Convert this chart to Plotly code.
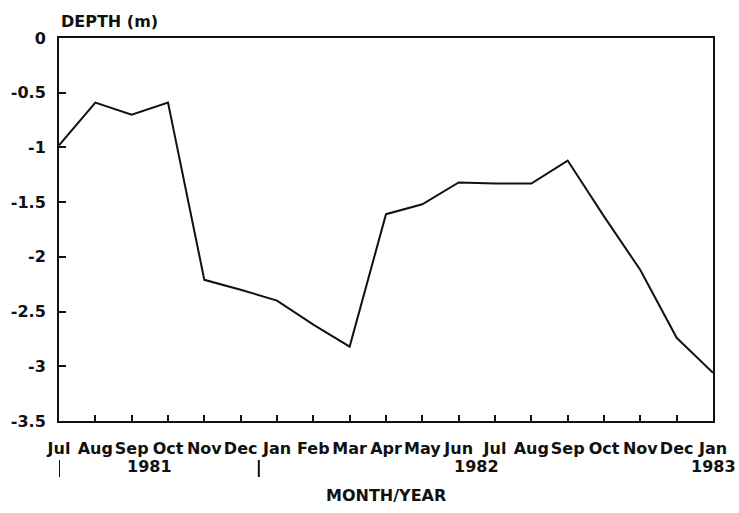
import plotly.graph_objects as go

# Monthly water-table depth, July 1981 to January 1983
months = ["Jul", "Aug", "Sep", "Oct", "Nov", "Dec", "Jan", "Feb", "Mar", "Apr",
          "May", "Jun", "Jul", "Aug", "Sep", "Oct", "Nov", "Dec", "Jan"]
depth_m = [-0.98, -0.59, -0.70, -0.59, -2.21, -2.30, -2.40, -2.62, -2.82, -1.61,
           -1.52, -1.32, -1.33, -1.33, -1.12, -1.63, -2.12, -2.74, -3.06]
y_ticks = [0, -0.5, -1, -1.5, -2, -2.5, -3, -3.5]
y_tick_text = ["0", "-0.5", "-1", "-1.5", "-2", "-2.5", "-3", "-3.5"]
# year labels: (text, position on month index)
year_labels = [("1981", 2.5), ("1982", 11.5), ("1983", 18)]
year_breaks = [0, 5.5]

x = list(range(len(months)))
FONT = "DejaVu Sans"
INK = "#111111"

fig = go.Figure()
fig.add_trace(go.Scatter(
    x=x, y=depth_m, mode="lines",
    line=dict(color=INK, width=2),
    showlegend=False, hoverinfo="skip",
))

fig.update_xaxes(
    range=[0, len(months) - 1],
    tickmode="array", tickvals=x, ticktext=months, tickangle=0,
    ticks="inside", ticklen=6, tickwidth=1.5, tickcolor=INK,
    ticklabelstandoff=12,
    showline=True, linecolor=INK, linewidth=2, mirror=True,
    showgrid=False, zeroline=False,
    tickfont=dict(family=FONT, size=16, color=INK, weight="bold"),
)
fig.update_yaxes(
    range=[-3.5, 0],
    tickmode="array", tickvals=y_ticks, ticktext=y_tick_text,
    ticks="inside", ticklen=7, tickwidth=1.5, tickcolor=INK,
    ticklabelstandoff=8,
    showline=True, linecolor=INK, linewidth=2, mirror=True,
    showgrid=False, zeroline=False,
    tickfont=dict(family=FONT, size=16, color=INK, weight="bold"),
)

annotations = [
    dict(text="DEPTH (m)", xref="paper", yref="paper", x=0, y=1,
         xanchor="left", yanchor="middle", yshift=17, showarrow=False,
         font=dict(family=FONT, size=16, color=INK, weight="bold")),
    dict(text="MONTH/YEAR", xref="paper", yref="paper", x=0.5, y=0,
         xanchor="center", yanchor="middle", yshift=-74, showarrow=False,
         font=dict(family=FONT, size=16, color=INK, weight="bold")),
]
for text, pos in year_labels:
    annotations.append(dict(
        text=text, xref="x", yref="paper", x=pos, y=0,
        xanchor="center", yanchor="middle", yshift=-45, showarrow=False,
        font=dict(family=FONT, size=16, color=INK, weight="bold"),
    ))

shapes = [
    dict(type="line", xref="x", yref="paper", ysizemode="pixel", yanchor=0,
         x0=b, x1=b, y0=-39, y1=-56, line=dict(color=INK, width=2))
    for b in year_breaks
]

fig.update_layout(
    width=739, height=513,
    margin=dict(l=59, r=26, t=38, b=92),
    paper_bgcolor="white", plot_bgcolor="white",
    annotations=annotations, shapes=shapes,
)

fig.write_html("out.html")
